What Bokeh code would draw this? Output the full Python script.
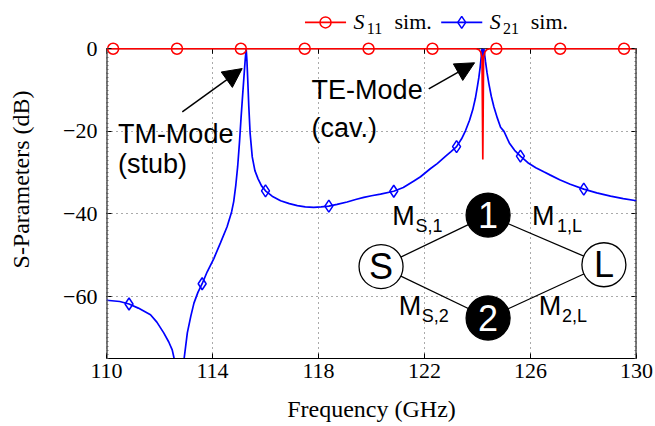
from bokeh.plotting import figure
from bokeh.models import (Range1d, LinearAxis, FixedTicker, Arrow, NormalHead,
                          CustomJSTickFormatter)
from bokeh.core.properties import value
from bokeh.embed import file_html
from bokeh.resources import INLINE

# ---------------- data ----------------
s21_freq = [110.0, 110.5, 110.85, 111.2, 111.66, 111.9, 112.16, 112.35, 112.48, 112.57,
            112.65, 112.72, 112.85, 112.92, 113.05, 113.18, 113.3, 113.45, 113.61, 113.8,
            114.05, 114.3, 114.55, 114.72, 114.8, 114.88, 114.95, 115.02, 115.08, 115.14,
            115.19, 115.23, 115.27, 115.30, 115.33, 115.37, 115.42, 115.5, 115.6, 115.72,
            115.85, 116.0, 116.25, 116.57, 116.9, 117.2, 117.5, 117.82, 118.1, 118.39,
            118.7, 119.08, 119.4, 119.71, 120.0, 120.34, 120.84, 121.2, 121.6, 121.85,
            122.23, 122.48, 122.8, 123.0, 123.21, 123.4, 123.55, 123.7, 123.82, 123.92,
            124.0, 124.05, 124.1, 124.14, 124.17, 124.205, 124.24, 124.27, 124.3, 124.36,
            124.43, 124.52, 124.62, 124.75, 124.87, 125.0, 125.2, 125.4, 125.62, 125.9,
            126.2, 126.5, 126.75, 127.1, 127.5, 128.01, 128.5, 129.02, 129.5, 130.0]
s21_db = [-60.9, -61.2, -61.8, -62.8, -64.4, -66.2, -68.8, -71.0, -72.9, -75.5,
          -80.0, -90.0, -90.0, -75.5, -68.8, -64.8, -61.6, -59.0, -56.9, -54.0,
          -50.8, -47.0, -43.1, -39.5, -37.0, -33.0, -28.5, -22.5, -16.5, -11.0,
          -6.5, -3.0, 0.0, -3.0, -7.5, -14.0, -20.5, -26.2, -29.5, -31.5,
          -33.2, -34.4, -35.7, -36.8, -37.5, -38.0, -38.3, -38.4, -38.3, -38.1,
          -37.7, -37.1, -36.5, -36.0, -35.6, -35.2, -34.5, -33.6, -32.0, -31.0,
          -29.0, -27.8, -26.0, -24.9, -23.7, -21.8, -19.8, -17.3, -14.8, -12.0,
          -9.0, -7.0, -4.5, -2.0, 0.0, -2.0, 0.0, -1.5, -3.0, -5.8,
          -8.5, -11.5, -14.1, -16.8, -19.0, -20.0, -22.8, -24.6, -26.0, -27.6,
          -28.8, -29.8, -30.6, -31.7, -32.8, -34.0, -34.9, -35.7, -36.3, -36.8]
s21_mark_freq = [110.85, 113.61, 116.0, 118.39, 120.84, 123.21, 125.62, 128.01]
s21_mark_db = [-61.8, -56.9, -34.4, -38.1, -34.5, -23.7, -26.0, -34.0]

s11_freq = [110.0, 123.95, 124.05, 124.12, 124.17, 124.2, 124.23, 124.28, 124.35, 124.45, 130.0]
s11_db = [0.0, 0.0, -0.2, -0.8, -2.0, -26.8, -2.0, -0.8, -0.2, 0.0, 0.0]
s11_mark_freq = [110.25, 112.66, 115.07, 117.48, 119.89, 122.30, 124.71, 127.12, 129.53]
s11_mark_db = [0, 0, 0, 0, 0, 0, 0, 0, 0]

x_min, x_max = 110, 130
y_min, y_max = -75, 0
x_ticks = [110, 114, 118, 122, 126, 130]
y_ticks = [0, -20, -40, -60]
y_minor = list(range(-75, 1))

legend_names = ["S", "S"]
legend_subs = ["11", "21"]
legend_tail = ["sim.", "sim."]

# coupling diagram (nodes and labels)
node_names = ["S", "1", "2", "L"]
node_x = [120.36, 124.40, 124.40, 128.77]
node_y = [-52.75, -40.27, -65.2, -52.3]
edges = [(0, 1), (0, 2), (1, 3), (2, 3)]
coup_main = ["M", "M", "M", "M"]
coup_sub = ["S,1", "1,L", "S,2", "2,L"]
coup_x = [120.78, 126.06, 121.03, 126.31]
coup_y = [-40.4, -40.4, -62.24, -62.24]
coup_sub_x = [121.66, 127.0, 121.9, 127.19]
coup_sub_y = [-42.84, -42.84, -64.61, -64.61]

SERIF = "Liberation Serif"
SANS = "Liberation Sans"
RED = "#ff0000"
BLUE = "#0000ff"

W = 654
H = 426
FRAME_H = 358
HEADROOM_DB = 11.68   # space above the 0 dB box edge, holds the legend
PX_PER_DB = FRAME_H / (y_max + HEADROOM_DB - y_min)

p = figure(width=W, height=H, x_range=Range1d(x_min, x_max),
           y_range=Range1d(y_min, y_max + HEADROOM_DB),
           output_backend="svg", toolbar_location=None,
           min_border_left=106, min_border_right=W - 636, min_border_top=0,
           min_border_bottom=H - FRAME_H,
           x_axis_label="Frequency (GHz)", y_axis_label="S-Parameters (dB)")
p.outline_line_color = None
p.background_fill_color = "white"
p.border_fill_color = "white"

xt = FixedTicker(ticks=x_ticks, minor_ticks=[])
yt = FixedTicker(ticks=y_ticks, minor_ticks=y_minor)
p.xaxis.ticker = xt
p.yaxis.ticker = yt
p.yaxis.formatter = CustomJSTickFormatter(
    code="return tick < 0 ? '\\u2212' + String(-tick) : String(tick);")

for ax in [p.xaxis[0], p.yaxis[0]]:
    ax.axis_line_color = "black"
    ax.major_tick_in = 5
    ax.major_tick_out = 0
    ax.minor_tick_in = 2
    ax.minor_tick_out = 0
    ax.minor_tick_line_color = "#555555"
    ax.minor_tick_line_width = 0.8
    ax.major_label_text_font = SERIF
    ax.major_label_text_font_size = "22px"
    ax.major_label_text_color = "black"
    ax.axis_label_text_font = SERIF
    ax.axis_label_text_font_size = "24px"
    ax.axis_label_text_font_style = "normal"
    ax.axis_label_text_color = "black"
p.yaxis.axis_line_color = None
p.xaxis.major_label_standoff = 5
p.xaxis.axis_label_standoff = 15
p.xaxis.axis_label_text_line_height = 1.0
p.xaxis.major_label_text_line_height = 1.0
p.yaxis.major_label_standoff = 9
p.yaxis.axis_label_standoff = 26

right_ax = LinearAxis(ticker=yt, major_tick_in=5, major_tick_out=0,
                      minor_tick_in=2, minor_tick_out=0, axis_line_color=None,
                      minor_tick_line_color="#555555", minor_tick_line_width=0.8,
                      major_label_standoff=0, major_label_text_font_size="2px",
                      major_label_overrides={t: "" for t in y_ticks})
p.add_layout(right_ax, "right")

p.ygrid.ticker = yt
p.ygrid.grid_line_color = "#555555"
p.ygrid.grid_line_dash = "1 4"
p.xgrid.visible = False
# vertical grid lines only inside the 0..-75 dB box
p.segment(x0=x_ticks, y0=[y_min] * len(x_ticks), x1=x_ticks, y1=[y_max] * len(x_ticks),
          line_color="#555555", line_dash="1 4", line_width=1)
# box: left, right and top edges (the box ends at 0 dB)
p.segment(x0=[x_min, x_max], y0=[y_min, y_min], x1=[x_min, x_max], y1=[y_max, y_max],
          line_color="black", line_width=2)
p.segment(x0=[x_min], y0=[y_max], x1=[x_max], y1=[y_max], line_color="black", line_width=1)
p.segment(x0=x_ticks, y0=[y_max] * len(x_ticks), x1=x_ticks,
          y1=[y_max - 5 / PX_PER_DB] * len(x_ticks), line_color="black", line_width=1)

line_kw_b = dict(line_color=BLUE, line_width=1.7)
line_kw_r = dict(line_color=RED, line_width=1.7)
mark_kw_b = dict(marker="diamond", size=12, line_color=BLUE, fill_color=None, line_width=1.5)
mark_kw_r = dict(marker="circle", size=11, line_color=RED, fill_color=None, line_width=1.5)

p.line(s21_freq, s21_db, **line_kw_b)
p.scatter(s21_mark_freq, s21_mark_db, **mark_kw_b)
p.line(s11_freq, s11_db, **line_kw_r)
p.scatter(s11_mark_freq, s11_mark_db, **mark_kw_r)

# ---------------- annotations ----------------
def txt(x, y, s, size, color="black", align="left", font=SANS, style="normal"):
    p.text(x=[x], y=[y], text=[s], text_font=value(font), text_font_size=value(size),
           text_color=color, text_align=align, text_baseline="middle",
           text_font_style=style)

txt(110.43, -20.71, "TM-Mode", "27px")
txt(110.43, -27.96, "(stub)", "27px")
txt(117.74, -10.06, "TE-Mode", "27px")
txt(117.74, -19.11, "(cav.)", "27px")

p.add_layout(Arrow(end=NormalHead(size=19, fill_color="black", line_color="black"),
                   x_start=112.86, y_start=-15.3, x_end=115.12, y_end=-4.8,
                   line_color="black", line_width=1.5))
p.add_layout(Arrow(end=NormalHead(size=19, fill_color="black", line_color="black"),
                   x_start=122.16, y_start=-9.7, x_end=123.89, y_end=-3.4,
                   line_color="black", line_width=1.5))

# coupling diagram
p.segment(x0=[node_x[a] for a, b in edges], y0=[node_y[a] for a, b in edges],
          x1=[node_x[b] for a, b in edges], y1=[node_y[b] for a, b in edges],
          line_color="black", line_width=1.3)
fills = ["white", "black", "black", "white"]
tcols = ["black", "white", "white", "black"]
p.scatter(node_x, node_y, marker="circle", size=44, fill_color=fills,
          line_color="black", line_width=1.3)
for i in range(4):
    txt(node_x[i], node_y[i], node_names[i], "36px", color=tcols[i], align="center")
for i in range(4):
    txt(coup_x[i], coup_y[i], coup_main[i], "27px")
    txt(coup_sub_x[i], coup_sub_y[i], coup_sub[i], "18px")

# ---------------- legend (above the 0 dB box edge) ----------------
leg_x0 = [117.49, 122.63]          # start of each legend sample line
leg_y = 6.37
leg_styles = [(line_kw_r, mark_kw_r), (line_kw_b, mark_kw_b)]
for k in range(2):
    lk, mk = leg_styles[k]
    x0 = leg_x0[k]
    p.segment(x0=[x0], y0=[leg_y], x1=[x0 + 1.55], y1=[leg_y], **lk)
    p.scatter([x0 + 0.775], [leg_y], **mk)
    txt(x0 + 1.83, 6.6, legend_names[k], "22px", font=SERIF, style="italic")
    txt(x0 + 2.33, 5.0, legend_subs[k], "16px", font=SERIF)
    txt(x0 + 3.38, 6.6, legend_tail[k], "22px", font=SERIF)

open("out.html", "w").write(file_html(p, INLINE))
